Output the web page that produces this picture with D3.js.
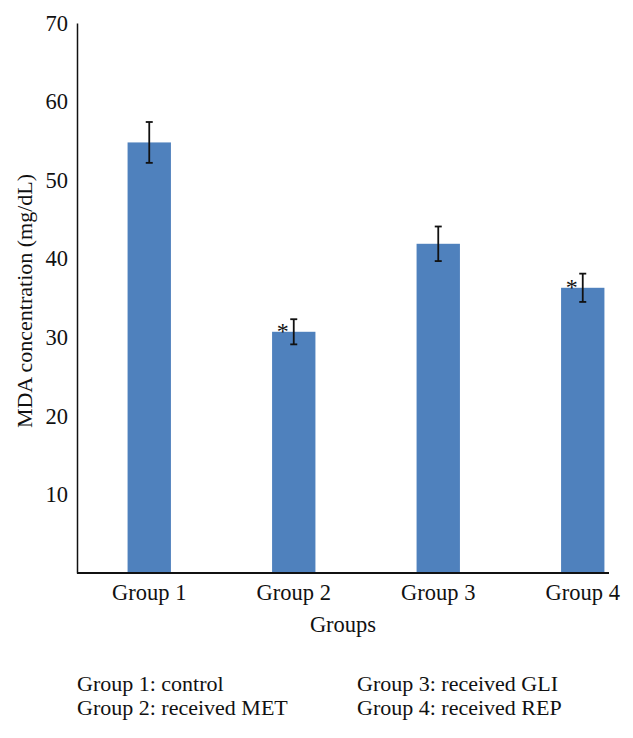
<!DOCTYPE html>
<html>
<head>
<meta charset="utf-8">
<script src="https://cdn.jsdelivr.net/npm/d3@7"></script>
<style>
  html, body { margin: 0; padding: 0; background: #fff; }
  svg { display: block; }
  text { font-family: "Liberation Serif", "Times New Roman", serif; fill: #111; }
</style>
</head>
<body>
<svg id="chart" width="633" height="738"></svg>
<script>
const categories = ["Group 1", "Group 2", "Group 3", "Group 4"];
const means = [54.8, 30.7, 41.9, 36.3];
const errors = [2.6, 1.6, 2.2, 1.8];
const significant = [false, true, false, true];
const yTicks = [10, 20, 30, 40, 50, 60, 70];
const legendLeft = ["Group 1: control", "Group 2: received MET"];
const legendRight = ["Group 3: received GLI", "Group 4: received REP"];

const svg = d3.select("#chart");
const fontSize = 22.5;
const noteSize = 22;

const x = d3.scaleBand().domain(categories).range([77, 655]).paddingInner(0.7).paddingOuter(0.35);
const y = d3.scaleLinear().domain([0, 70]).range([573, 23]);

// bars
svg.append("g").selectAll("rect").data(categories).join("rect")
  .attr("x", d => x(d))
  .attr("y", (d, i) => y(means[i]))
  .attr("width", x.bandwidth())
  .attr("height", (d, i) => y(0) - y(means[i]))
  .attr("fill", "#4f81bd");

// error bars
const eb = svg.append("g").attr("stroke", "#111").attr("stroke-width", 1.8);
categories.forEach((c, i) => {
  const cx = x(c) + x.bandwidth() / 2;
  const hi = y(means[i] + errors[i]), lo = y(means[i] - errors[i]);
  eb.append("line").attr("x1", cx).attr("x2", cx).attr("y1", hi).attr("y2", lo);
  eb.append("line").attr("x1", cx - 3.5).attr("x2", cx + 3.5).attr("y1", hi).attr("y2", hi);
  eb.append("line").attr("x1", cx - 3.5).attr("x2", cx + 3.5).attr("y1", lo).attr("y2", lo);
  if (significant[i]) {
    svg.append("text").attr("x", cx - 11).attr("y", y(means[i]) + 7)
      .attr("text-anchor", "middle").style("font-size", "24px").text("*");
  }
});

// y axis
const yAxis = d3.axisLeft(y).tickValues(yTicks).tickSize(0).tickPadding(9).tickFormat(d3.format("d"));
const gy = svg.append("g").attr("transform", "translate(77,0)").call(yAxis);
gy.select(".domain").attr("stroke", "#111").attr("stroke-width", 1.5);
gy.selectAll("text").style("font-size", fontSize + "px").style("font-family", "Liberation Serif").attr("fill", "#111");

// x axis
const xAxis = d3.axisBottom(x).tickSize(0).tickPadding(11);
const gx = svg.append("g").attr("transform", "translate(0,573)").call(xAxis);
gx.select(".domain").attr("d", "M77,0H609").attr("stroke", "#111").attr("stroke-width", 2);
gx.selectAll("text").style("font-size", fontSize + "px").style("font-family", "Liberation Serif").attr("fill", "#111");

// axis titles
svg.append("text").attr("x", 343).attr("y", 632).attr("text-anchor", "middle")
  .style("font-size", fontSize + "px").text("Groups");
svg.append("text").attr("transform", "translate(32,301) rotate(-90)").attr("text-anchor", "middle")
  .style("font-size", noteSize + "px").text("MDA concentration (mg/dL)");

// legend notes
legendLeft.forEach((t, i) => {
  svg.append("text").attr("x", 77).attr("y", 691 + i * 24).style("font-size", noteSize + "px").text(t);
});
legendRight.forEach((t, i) => {
  svg.append("text").attr("x", 357).attr("y", 691 + i * 24).style("font-size", noteSize + "px").text(t);
});
</script>
</body>
</html>
